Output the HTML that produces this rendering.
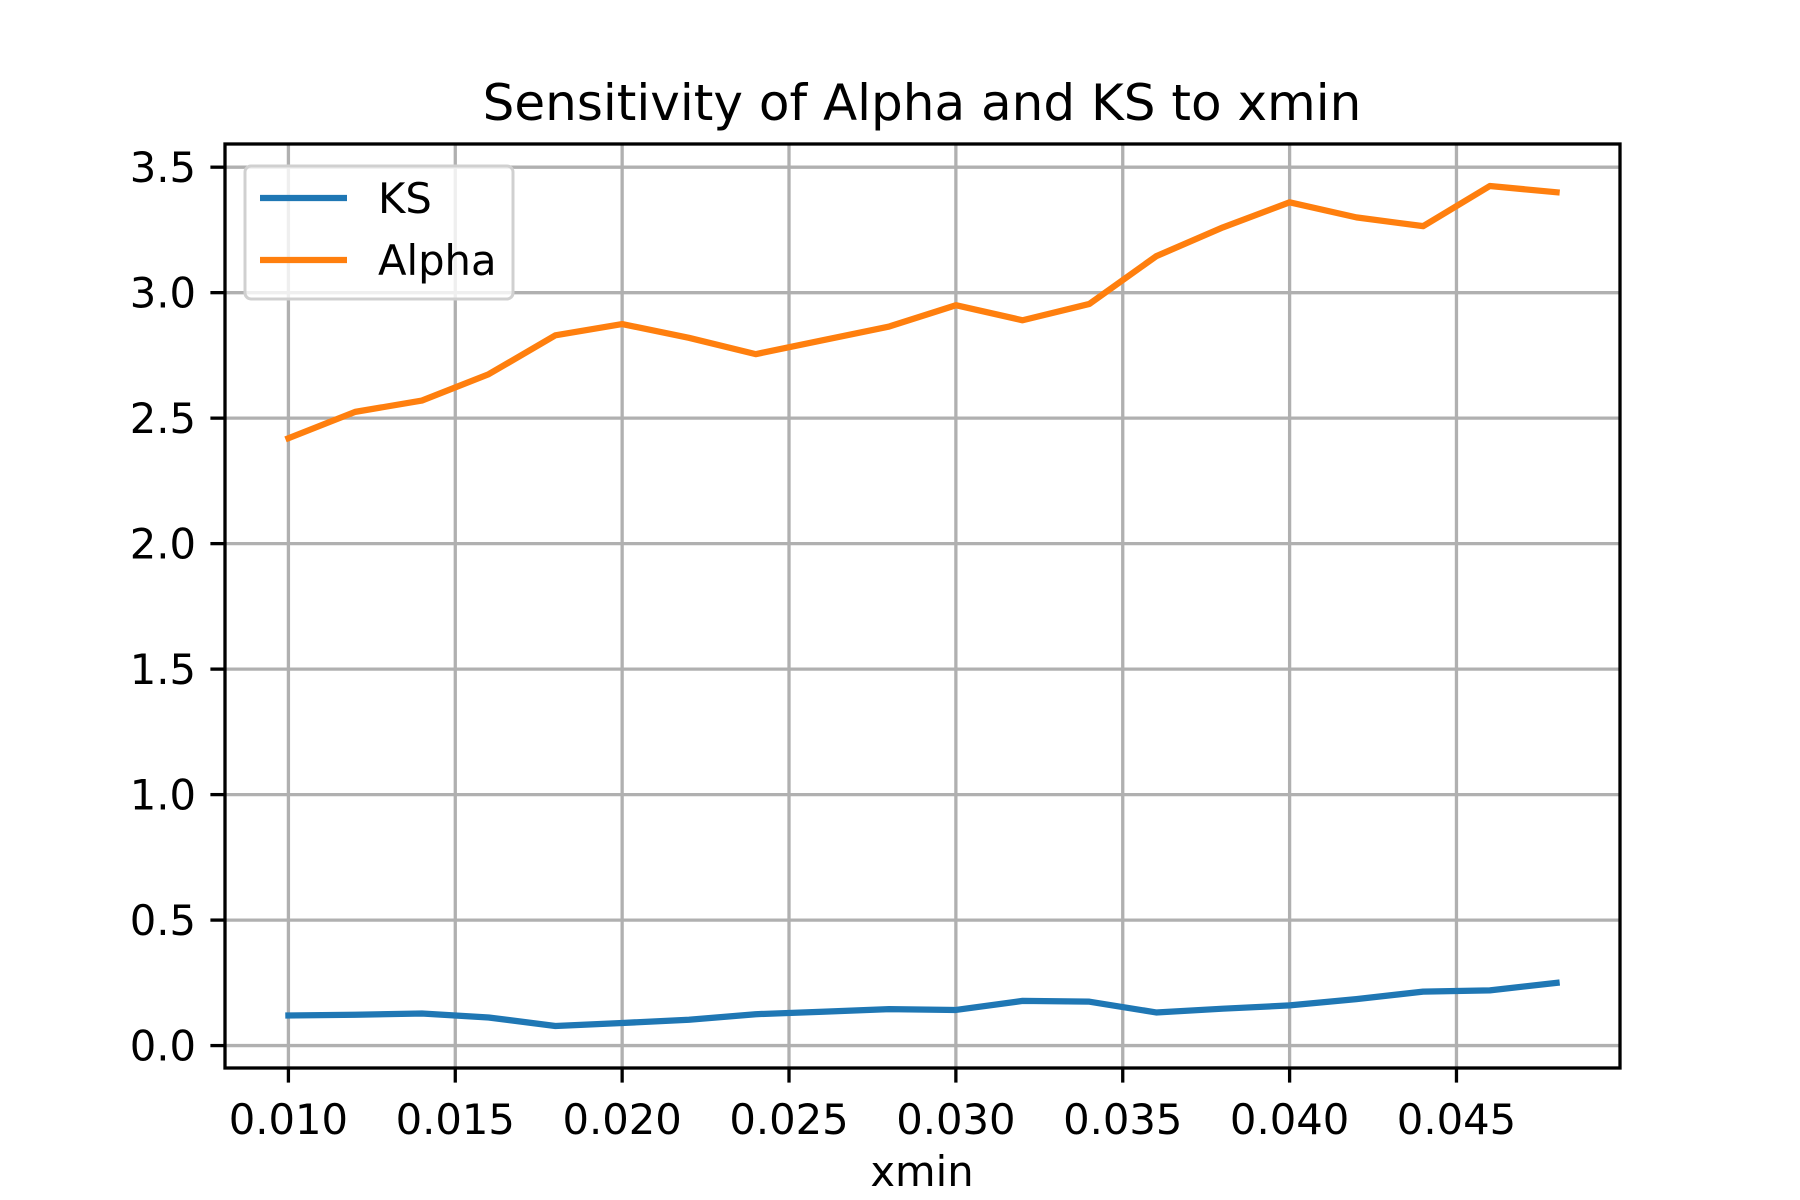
<!DOCTYPE html>
<html><head><meta charset="utf-8"><style>
html,body{margin:0;padding:0;background:#fff}
svg{display:block;font-family:"DejaVu Sans","Liberation Sans",sans-serif}
</style></head><body>
<svg id="chart" width="1800" height="1200" viewBox="0 0 1800 1200" xmlns="http://www.w3.org/2000/svg">
<rect width="1800" height="1200" fill="#fff"/>
<g id="grid"></g>
<g id="series"></g>
<rect x="225" y="144" width="1395" height="924" fill="none" stroke="#000" stroke-width="3.3"/>
<g id="ticks"></g>
<text x="922" y="120" font-size="50" text-anchor="middle">Sensitivity of Alpha and KS to xmin</text>
<text x="922" y="1186" font-size="41.7" text-anchor="middle">xmin</text>
<g>
<rect x="245" y="166" width="268" height="133" rx="6" fill="#fff" fill-opacity="0.8" stroke="#d0d0d0" stroke-width="3"/>
<line x1="260" y1="198" x2="347" y2="198" stroke="#1f77b4" stroke-width="6.25"/>
<text x="378" y="213" font-size="41.7">KS</text>
<line x1="260" y1="260" x2="347" y2="260" stroke="#ff7f0e" stroke-width="6.25"/>
<text x="378" y="275" font-size="41.7">Alpha</text>
</g>
</svg>
<script>
const xminValues=[0.010,0.012,0.014,0.016,0.018,0.020,0.022,0.024,0.026,0.028,0.030,0.032,0.034,0.036,0.038,0.040,0.042,0.044,0.046,0.048];
const alphaValues=[2.42,2.525,2.57,2.675,2.83,2.875,2.82,2.755,2.81,2.865,2.95,2.89,2.955,3.145,3.26,3.36,3.30,3.265,3.425,3.40];
const ksValues=[0.12,0.123,0.128,0.112,0.078,0.09,0.103,0.125,0.135,0.145,0.142,0.178,0.175,0.132,0.147,0.16,0.185,0.215,0.22,0.25];
const xTicks=[0.010,0.015,0.020,0.025,0.030,0.035,0.040,0.045];
const xTickLabels=["0.010","0.015","0.020","0.025","0.030","0.035","0.040","0.045"];
const yTicks=[0,0.5,1,1.5,2,2.5,3,3.5];
const yTickLabels=["0.0","0.5","1.0","1.5","2.0","2.5","3.0","3.5"];

const NS="http://www.w3.org/2000/svg";
const L=225,R=1620,T=144,B=1068;
const all=alphaValues.concat(ksValues);
const x0=Math.min(...xminValues),x1=Math.max(...xminValues),xm=(x1-x0)*0.05;
const y0=Math.min(...all),y1=Math.max(...all),ym=(y1-y0)*0.05;
const xs=v=>L+(v-(x0-xm))/((x1+xm)-(x0-xm))*(R-L);
const ys=v=>B-(v-(y0-ym))/((y1+ym)-(y0-ym))*(B-T);
function mk(tag,attrs,parent){const e=document.createElementNS(NS,tag);for(const k in attrs)e.setAttribute(k,attrs[k]);parent.appendChild(e);return e;}
const grid=document.getElementById('grid'),ticks=document.getElementById('ticks'),series=document.getElementById('series');
xTicks.forEach((t,i)=>{const x=xs(t);
 const g=mk('line',{x1:x,x2:x,y1:T,y2:B,stroke:'#b0b0b0','stroke-width':3.3},grid);
 
 
 const tk=mk('line',{x1:x,x2:x,y1:B,y2:B+14.6,stroke:'#000','stroke-width':3.3},ticks);
 
 
 const tx=mk('text',{x:x,y:1134,'font-size':41.7,'text-anchor':'middle'},ticks);tx.textContent=xTickLabels[i];
 
 
});
yTicks.forEach((t,i)=>{const y=ys(t);
 const g=mk('line',{x1:L,x2:R,y1:y,y2:y,stroke:'#b0b0b0','stroke-width':3.3},grid);
 
 
 const tk=mk('line',{x1:L-14.6,x2:L,y1:y,y2:y,stroke:'#000','stroke-width':3.3},ticks);
 
 
 const tx=mk('text',{x:196,y:y+15,'font-size':41.7,'text-anchor':'end'},ticks);tx.textContent=yTickLabels[i];
 
 
});
function line(vals,color,name){
 const p=mk('polyline',{points:vals.map((v,i)=>xs(xminValues[i])+','+ys(v)).join(' '),fill:'none',stroke:color,'stroke-width':6.25,'stroke-linejoin':'round','stroke-linecap':'square'},series);
 
 
}
line(ksValues,'#1f77b4','ks-line');
line(alphaValues,'#ff7f0e','alpha-line');
</script>
</body></html>
